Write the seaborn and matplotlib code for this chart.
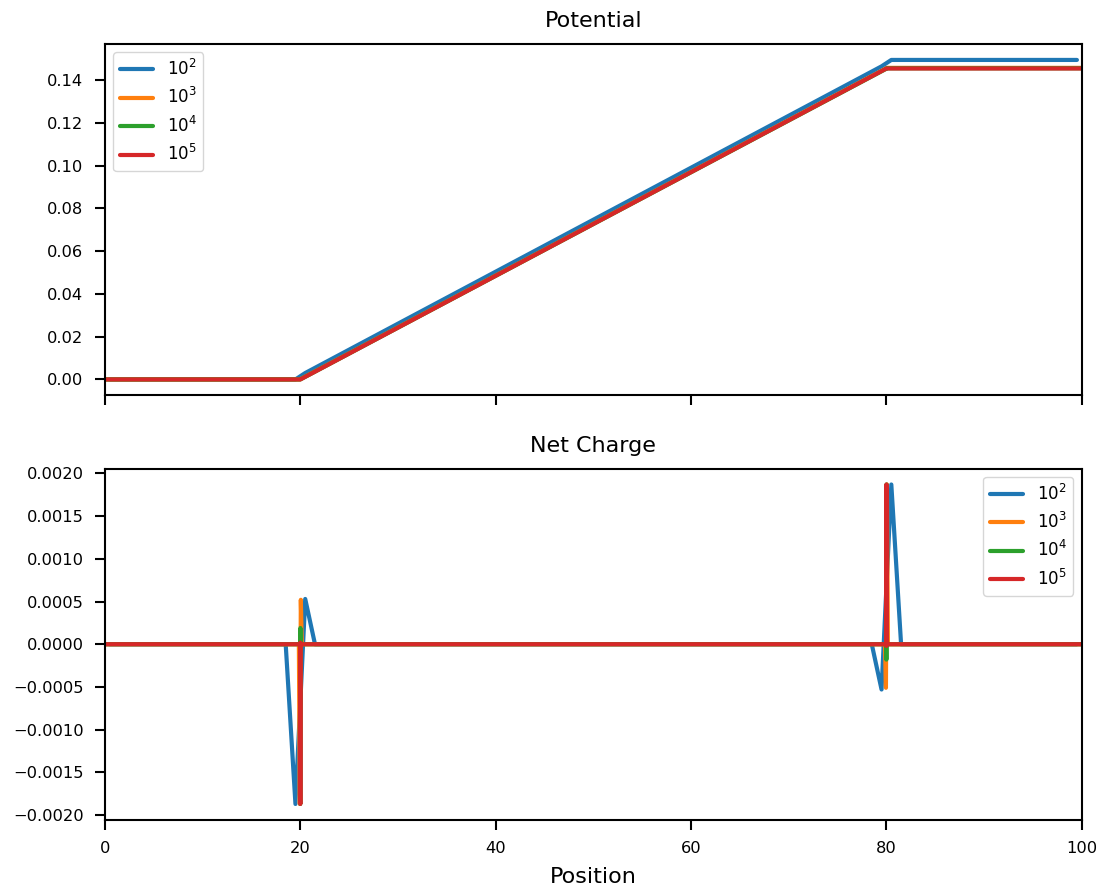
import numpy as np
import pandas as pd
import matplotlib
matplotlib.use("Agg")
import matplotlib.pyplot as plt
import seaborn as sns

# Grid sizes of the four runs
grid_sizes = [100, 1000, 10000, 100000]
labels = ["$10^2$", "$10^3$", "$10^4$", "$10^5$"]

# Potential: breakpoints of each piecewise-linear profile (cell centres)
pot_x_1e2 = [0.5, 19.5, 20.5, 79.5, 80.5, 99.5]
pot_y_1e2 = [0.0, 0.0, 0.0030, 0.1465, 0.1495, 0.1495]
pot_x_1e3 = [0.05, 19.95, 20.05, 79.95, 80.05, 99.95]
pot_y_1e3 = [0.0, 0.0, 0.00025, 0.1455, 0.1458, 0.1458]
pot_x_1e4 = [0.005, 19.995, 20.005, 79.995, 80.005, 99.995]
pot_y_1e4 = [0.0, 0.0, 0.00003, 0.1454, 0.1456, 0.1456]
pot_x_1e5 = [0.0005, 19.9995, 20.0005, 79.9995, 80.0005, 99.9995]
pot_y_1e5 = [0.0, 0.0, 0.0, 0.1455, 0.1455, 0.1455]

# Net charge: non-zero cells around the two interfaces, zero elsewhere
chg_x_1e2 = [0.5, 18.5, 19.5, 20.5, 21.5, 78.5, 79.5, 80.5, 81.5, 99.5]
chg_y_1e2 = [0.0, 0.0, -0.00187, 0.00053, 0.0, 0.0, -0.00053, 0.00187, 0.0, 0.0]
chg_x_1e3 = [0.05, 19.85, 19.95, 20.05, 20.15, 79.85, 79.95, 80.05, 80.15, 99.95]
chg_y_1e3 = [0.0, 0.0, -0.00187, 0.00052, 0.0, 0.0, -0.00051, 0.00187, 0.0, 0.0]
chg_x_1e4 = [0.005, 19.985, 19.995, 20.005, 20.015, 79.985, 79.995, 80.005, 80.015, 99.995]
chg_y_1e4 = [0.0, 0.0, -0.00187, 0.00019, 0.0, 0.0, -0.00018, 0.00187, 0.0, 0.0]
chg_x_1e5 = [0.0005, 19.9985, 19.9995, 20.0005, 20.0015, 79.9985, 79.9995, 80.0005, 80.0015, 99.9995]
chg_y_1e5 = [0.0, 0.0, -0.00187, 0.00002, 0.0, 0.0, -0.00002, 0.00187, 0.0, 0.0]

potential = [(pot_x_1e2, pot_y_1e2), (pot_x_1e3, pot_y_1e3),
             (pot_x_1e4, pot_y_1e4), (pot_x_1e5, pot_y_1e5)]
charge = [(chg_x_1e2, chg_y_1e2), (chg_x_1e3, chg_y_1e3),
          (chg_x_1e4, chg_y_1e4), (chg_x_1e5, chg_y_1e5)]

sns.set_theme(context="notebook", style="ticks")
plt.rcParams.update({
    "font.family": ["DejaVu Sans"],
    "text.color": "black",
    "axes.labelcolor": "black",
    "xtick.color": "black",
    "ytick.color": "black",
    "xtick.labelsize": 11.7,
    "ytick.labelsize": 11.7,
    "legend.fontsize": 12,
    "axes.titlesize": 16,
    "axes.labelsize": 16,
    "xtick.major.size": 7,
    "ytick.major.size": 7,
    "xtick.major.pad": 8,
    "ytick.major.pad": 8.5,
    "axes.linewidth": 1.5,
    "xtick.major.width": 1.5,
    "ytick.major.width": 1.5,
    "axes.edgecolor": "black",
})
colors = sns.color_palette("tab10", 4)

fig, (ax_pot, ax_chg) = plt.subplots(2, 1, figsize=(11.05, 8.9), dpi=100, sharex=True)
fig.subplots_adjust(left=0.095, right=0.979, top=0.9506, bottom=0.0787, hspace=0.208)

for (x, y), lab, c in zip(potential, labels, colors):
    sns.lineplot(x=x, y=y, ax=ax_pot, color=c, label=lab, lw=3,
                 estimator=None, sort=False)
for (x, y), lab, c in zip(charge, labels, colors):
    sns.lineplot(x=x, y=y, ax=ax_chg, color=c, label=lab, lw=3,
                 estimator=None, sort=False)

ax_pot.set_title("Potential", pad=12)
ax_chg.set_title("Net Charge", pad=12)
ax_pot.set_xlim(0, 100)
ax_pot.set_xlabel("")
ax_pot.set_ylabel("")
ax_chg.set_ylabel("")
ax_chg.set_xlabel("Position", labelpad=8)
ax_pot.set_yticks(np.arange(0, 0.141, 0.02))
ax_chg.set_yticks(np.arange(-0.002, 0.00201, 0.0005))

ax_pot.legend(loc="upper left")
ax_chg.legend(loc="upper right")

fig.savefig("out.png", dpi=100)
